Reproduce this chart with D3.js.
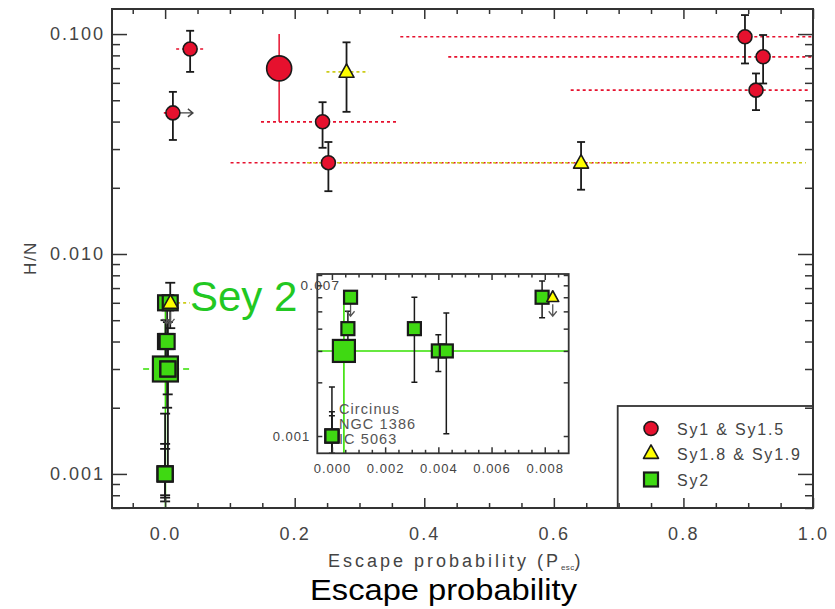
<!DOCTYPE html>
<html><head><meta charset="utf-8">
<script src="https://cdn.jsdelivr.net/npm/d3@7"></script>
<style>
body{margin:0;background:#fff}
svg{display:block}
text{font-family:"Liberation Sans",Arial,Helvetica,sans-serif}
</style></head>
<body><svg id="c" width="835" height="609"></svg>
<script>
// ---------------- data ----------------
// Sy1 & Sy1.5
const sy1X    = [0.012, 0.0386, 0.176, 0.243, 0.252, 0.895, 0.923, 0.912];
const sy1Y    = [0.0438, 0.0855, 0.0698, 0.0399, 0.026, 0.0972, 0.0788, 0.0556];
const sy1YLo  = [0.033, 0.0673, 0.0399, 0.0304, 0.0193, 0.0735, 0.0596, 0.0451];
const sy1YHi  = [0.0546, 0.1035, 0.100, 0.049, 0.0323, 0.122, 0.099, 0.0662];
const sy1XLo  = [-0.002, 0.017, null, 0.148, 0.101, 0.363, 0.437, 0.626];
const sy1XHi  = [0.012, 0.063, null, 0.357, 0.718, 1.05, 1.05, 0.995];
const sy1Mean = [false, false, true, false, false, false, false, false];
const sy1XLowerLimit = [true, false, false, false, false, false, false, false];
// Sy1.8 & Sy1.9
const sy18X   = [0.280, 0.642, 0.0083];
const sy18Y   = [0.0673, 0.026, 0.006];
const sy18YLo = [0.0443, 0.0196, null];
const sy18YHi = [0.0917, 0.0323, null];
const sy18XLo = [0.249, 0.219, 0.0];
const sy18XHi = [0.314, 0.989, 0.038];
const sy18UpperLimit = [false, false, true];
// Sy2
const sy2Names = ["", "", "", "", "", "", "", "Circinus", "NGC 1386", "IC 5063"];
const sy2X    = [0.0007, 0.0006, 0.00045, 0.0031, 0.0040, 0.0043, 0.0079, 0.0, 0.0, 0.0];
const sy2Y    = [0.006, 0.004, 0.003, 0.004, 0.003, 0.003, 0.006, 0.001, 0.001, 0.001];
const sy2YLo  = [null, 0.0029, 0.0006, 0.002, 0.0023, 0.00103, 0.0046, 0.00075, 0.00078, 0.0008];
const sy2YHi  = [null, 0.005, 0.0057, 0.006, 0.0037, 0.0049, 0.0074, 0.00188, 0.00137, 0.0013];
const sy2XLo  = [null, null, -0.034, null, null, null, null, null, null, null];
const sy2XHi  = [null, null, 0.037, null, null, null, null, null, null, null];
const sy2Mean = [false, false, true, false, false, false, false, false, false, false];
const sy2UpperLimit = [true, false, false, false, false, false, false, false, false, false];
// axes
const xMainTicks = [0.0, 0.2, 0.4, 0.6, 0.8, 1.0];
const yMainTicks = [0.001, 0.010, 0.100];
const xInsetTicks = [0.000, 0.002, 0.004, 0.006, 0.008];
const legendLabels = ["Sy1  &  Sy1.5", "Sy1.8  &  Sy1.9", "Sy2"];

// ---------------- styles ----------------
const RED = "#e6112e", YEL = "#ffff00", GRN = "#3fd912", GLINE = "#35e000",
      YLINE = "#cccc1a", INK = "#1a1a1a", GRAY = "#444", AX = "#333";

const svg = d3.select("#c");
svg.append("rect").attr("width", 835).attr("height", 609).attr("fill", "#fff");

// main scales
const x = d3.scaleLinear().domain([-0.082, 1.0]).range([112, 813]);
const y = d3.scaleLog().domain([0.0007, 0.13]).range([508, 9]);
// inset scales
const xi = d3.scaleLinear().domain([-0.00055, 0.0089]).range([317.3, 568.7]);
const yi = d3.scaleLog().domain([0.0008, 0.0081]).range([453.3, 274]);

const defs = svg.append("defs");
defs.append("clipPath").attr("id", "cm").append("rect")
  .attr("x", 112).attr("y", 9).attr("width", 701).attr("height", 499);
defs.append("clipPath").attr("id", "ci").append("rect")
  .attr("x", 317.3).attr("y", 274).attr("width", 251.4).attr("height", 179.3);

function hline(g, x1, x2, yy, color, dash, w) {
  g.append("line").attr("x1", x1).attr("x2", x2).attr("y1", yy).attr("y2", yy)
    .attr("stroke", color).attr("stroke-width", w || 1.7).attr("stroke-dasharray", dash || null);
}
function vbar(g, xx, y1, y2, color, caps, w, cw) {
  g.append("line").attr("x1", xx).attr("x2", xx).attr("y1", y1).attr("y2", y2)
    .attr("stroke", color).attr("stroke-width", w || 1.6);
  if (caps) [y1, y2].forEach(v => g.append("line").attr("x1", xx - cw).attr("x2", xx + cw)
    .attr("y1", v).attr("y2", v).attr("stroke", color).attr("stroke-width", w || 1.6));
}
function downArrow(g, xx, yy, len) {
  g.append("path").attr("d", `M${xx},${yy}V${yy + len}M${xx - 4},${yy + len - 5}L${xx},${yy + len}L${xx + 4},${yy + len - 5}`)
    .attr("fill", "none").attr("stroke", "#555").attr("stroke-width", 1.3);
}
function circle(g, cx, cy, r) {
  g.append("circle").attr("cx", cx).attr("cy", cy).attr("r", r)
    .attr("fill", RED).attr("stroke", INK).attr("stroke-width", 1.6);
}
function square(g, cx, cy, s) {
  g.append("rect").attr("x", cx - s / 2).attr("y", cy - s / 2).attr("width", s).attr("height", s)
    .attr("fill", GRN).attr("stroke", INK).attr("stroke-width", 2.2);
}
function tri(g, cx, cy, s) {
  const h = s * 0.9;
  g.append("path").attr("d", `M${cx},${cy - h * 0.6}L${cx + s / 2},${cy + h * 0.4}L${cx - s / 2},${cy + h * 0.4}Z`)
    .attr("fill", YEL).attr("stroke", INK).attr("stroke-width", 1.6).attr("stroke-linejoin", "round");
}

// ---------------- main panel ----------------
const gm = svg.append("g").attr("clip-path", "url(#cm)");
sy1X.forEach((d, i) => { if (sy1XLo[i] != null) hline(gm, x(sy1XLo[i]), x(sy1XHi[i]), y(sy1Y[i]), RED, "3,3"); });
sy18X.forEach((d, i) => { if (sy18XLo[i] != null) hline(gm, x(sy18XLo[i]), x(sy18XHi[i]), y(sy18Y[i]), YLINE, "3,3"); });
sy2X.forEach((d, i) => { if (sy2XLo[i] != null) hline(gm, x(sy2XLo[i]), x(sy2XHi[i]), y(sy2Y[i]), GLINE, "6,4", 1.5); });
sy2X.forEach((d, i) => { if (sy2Mean[i]) vbar(gm, x(d), y(sy2YLo[i]), y(sy2YHi[i]), GLINE, false, 1.6); });
sy2X.forEach((d, i) => { if (!sy2Mean[i] && sy2YLo[i] != null) vbar(gm, x(d), y(sy2YLo[i]), y(sy2YHi[i]), INK, true, 1.8, 5); });
sy1X.forEach((d, i) => {
  if (sy1Mean[i]) vbar(gm, x(d), y(sy1YLo[i]), y(sy1YHi[i]), RED, false, 1.5);
  else vbar(gm, x(d), y(sy1YLo[i]), y(sy1YHi[i]), INK, true, 1.8, 4);
});
sy18X.forEach((d, i) => { if (sy18YLo[i] != null) vbar(gm, x(d), y(sy18YLo[i]), y(sy18YHi[i]), INK, true, 1.8, 4); });
sy1X.forEach((d, i) => {
  if (sy1XLowerLimit[i]) {
    const cx = x(d), cy = y(sy1Y[i]);
    gm.append("path").attr("d", `M${cx + 7},${cy}H${cx + 20}M${cx + 15},${cy - 4}L${cx + 20},${cy}L${cx + 15},${cy + 4}`)
      .attr("fill", "none").attr("stroke", "#444").attr("stroke-width", 1.4);
  }
});
sy2X.forEach((d, i) => { if (sy2UpperLimit[i]) downArrow(gm, x(d) + 1, y(sy2Y[i]) + 8, 13); });
sy18X.forEach((d, i) => { if (sy18UpperLimit[i]) downArrow(gm, x(d), y(sy18Y[i]) + 9, 12); });
sy2X.forEach((d, i) => square(gm, x(d), y(sy2Y[i]), sy2Mean[i] ? 25 : 15));
sy1X.forEach((d, i) => circle(gm, x(d), y(sy1Y[i]), sy1Mean[i] ? 12.5 : 7));
sy18X.forEach((d, i) => tri(gm, x(d), y(sy18Y[i]), 15));

svg.append("text").attr("x", 190).attr("y", 311).attr("font-size", 42)
  .attr("fill", "#22c822").text("Sey 2");

function styleAxis(g, fs, ls) {
  g.select(".domain").remove();
  g.selectAll(".tick line").attr("stroke", AX).attr("stroke-width", 1.5);
  g.selectAll(".tick text").attr("fill", GRAY).attr("font-size", fs).attr("letter-spacing", ls)
    .attr("font-family", "Liberation Sans, Arial, sans-serif");
}
const xMinor = d3.range(-0.05, 1.0001, 0.05).map(v => +v.toFixed(2)).filter(v => !xMainTicks.includes(v));
const yMinor = [];
[0.0001, 0.001, 0.01].forEach(b => d3.range(2, 10).forEach(k => yMinor.push(b * k)));
const yMinorIn = yMinor.filter(v => v > 0.00069 && v < 0.13);

const axes = svg.append("g");
axes.append("g").attr("transform", "translate(0,508)")
  .call(d3.axisBottom(x).tickValues(xMainTicks).tickSize(-10).tickPadding(19).tickFormat(d3.format(".1f")))
  .call(g => styleAxis(g, 18, 2.2));
axes.append("g").attr("transform", "translate(0,508)")
  .call(d3.axisBottom(x).tickValues(xMinor).tickSize(-5).tickFormat(""))
  .call(g => styleAxis(g, 18, 2));
axes.append("g").attr("transform", "translate(0,9)")
  .call(d3.axisTop(x).tickValues(xMainTicks).tickSize(-10).tickFormat(""))
  .call(g => styleAxis(g, 18, 2));
axes.append("g").attr("transform", "translate(0,9)")
  .call(d3.axisTop(x).tickValues(xMinor).tickSize(-5).tickFormat(""))
  .call(g => styleAxis(g, 18, 2));
axes.append("g").attr("transform", "translate(112,0)")
  .call(d3.axisLeft(y).tickValues(yMainTicks).tickSize(-15).tickPadding(7).tickFormat(d3.format(".3f")))
  .call(g => styleAxis(g, 18, 2));
axes.append("g").attr("transform", "translate(112,0)")
  .call(d3.axisLeft(y).tickValues(yMinorIn).tickSize(-8).tickFormat(""))
  .call(g => styleAxis(g, 18, 2));

// ---------------- inset ----------------
const gi0 = svg.append("g");
gi0.append("rect").attr("x", 317.3).attr("y", 274).attr("width", 251.4).attr("height", 179.3).attr("fill", "#fff");
const gi = gi0.append("g").attr("clip-path", "url(#ci)");
sy2X.forEach((d, i) => { if (sy2XLo[i] != null) hline(gi, xi(sy2XLo[i]), xi(sy2XHi[i]), yi(sy2Y[i]), GLINE, null, 1.6); });
sy2X.forEach((d, i) => { if (sy2Mean[i]) vbar(gi, xi(d), yi(sy2YLo[i]), yi(sy2YHi[i]), GLINE, false, 1.6); });
sy2X.forEach((d, i) => { if (!sy2Mean[i] && sy2YLo[i] != null) vbar(gi, xi(d), yi(sy2YLo[i]), yi(sy2YHi[i]), INK, true, 1.5, 3); });
sy2X.forEach((d, i) => { if (sy2UpperLimit[i]) downArrow(gi, xi(d), yi(sy2Y[i]) + 6, 13); });
sy18X.forEach((d, i) => { if (sy18UpperLimit[i]) downArrow(gi, xi(d), yi(sy18Y[i]) + 7, 12); });
sy2Names.filter(n => n).forEach((n, k) => {
  gi.append("text").attr("x", xi(0) + 7).attr("y", yi(0.001) - 22.5 + k * 15.3)
    .attr("font-size", 14.5).attr("letter-spacing", 1.1).attr("fill", "#555").text(n);
});
sy2X.forEach((d, i) => square(gi, xi(d), yi(sy2Y[i]), sy2Mean[i] ? 22 : 13));
sy18X.forEach((d, i) => { if (d < 0.0089) tri(gi, xi(d), yi(sy18Y[i]), 12); });
gi0.append("rect").attr("x", 317.3).attr("y", 274).attr("width", 251.4).attr("height", 179.3)
  .attr("fill", "none").attr("stroke", AX).attr("stroke-width", 1.8);
const xiMinor = d3.range(0, 0.0089, 0.0005).map(v => +v.toFixed(4)).filter(v => !xInsetTicks.includes(v));
const yiTicks = [0.001, 0.002, 0.003, 0.004, 0.005, 0.006, 0.007, 0.008];
gi0.append("g").attr("transform", "translate(0,453.3)")
  .call(d3.axisBottom(xi).tickValues(xInsetTicks).tickSize(-6).tickPadding(10).tickFormat(d3.format(".3f")))
  .call(g => styleAxis(g, 13, 1));
gi0.append("g").attr("transform", "translate(0,453.3)")
  .call(d3.axisBottom(xi).tickValues(xiMinor).tickSize(-3.5).tickFormat(""))
  .call(g => styleAxis(g, 13, 1));
gi0.append("g").attr("transform", "translate(0,274)")
  .call(d3.axisTop(xi).tickValues(xInsetTicks).tickSize(-6).tickFormat(""))
  .call(g => styleAxis(g, 13, 1));
gi0.append("g").attr("transform", "translate(0,274)")
  .call(d3.axisTop(xi).tickValues(xiMinor).tickSize(-3.5).tickFormat(""))
  .call(g => styleAxis(g, 13, 1));
gi0.append("g").attr("transform", "translate(317.3,0)")
  .call(d3.axisLeft(yi).tickValues(yiTicks).tickSize(-5).tickFormat(""))
  .call(g => styleAxis(g, 13, 1));
gi0.append("g").attr("transform", "translate(568.7,0)")
  .call(d3.axisRight(yi).tickValues(yiTicks).tickSize(-5).tickFormat(""))
  .call(g => styleAxis(g, 13, 1));
gi0.append("g").attr("transform", "translate(317.3,0)")
  .call(d3.axisLeft(yi).tickValues([0.001]).tickSize(0).tickPadding(7).tickFormat(d3.format(".3f")))
  .call(g => styleAxis(g, 13, 1));
gi0.append("g").attr("transform", "translate(317.3,0)")
  .call(d3.axisLeft(yi).tickValues([0.007]).tickSize(0).tickPadding(-23).tickFormat(d3.format(".3f")))
  .call(g => styleAxis(g, 13.5, 1.2));

// ---------------- legend ----------------
const lg = svg.append("g");
lg.append("rect").attr("x", 617.7).attr("y", 406).attr("width", 195.3).attr("height", 102)
  .attr("fill", "#fff").attr("stroke", AX).attr("stroke-width", 1.8);
circle(lg, 651, 428.5, 7);
tri(lg, 651, 453, 15);
square(lg, 651, 479.5, 14);
legendLabels.forEach((t, k) => lg.append("text").attr("x", 677).attr("y", 434.5 + k * 25.7)
  .attr("font-size", 16).attr("letter-spacing", 1.8).attr("fill", "#444").text(t));

axes.raise();
const ra = svg.append("g");
ra.append("g").attr("transform", "translate(813,0)")
  .call(d3.axisRight(y).tickValues(yMainTicks).tickSize(-15).tickFormat(""))
  .call(g => styleAxis(g, 18, 2));
ra.append("g").attr("transform", "translate(813,0)")
  .call(d3.axisRight(y).tickValues(yMinorIn).tickSize(-8).tickFormat(""))
  .call(g => styleAxis(g, 18, 2));
svg.append("rect").attr("x", 112).attr("y", 9).attr("width", 701).attr("height", 499)
  .attr("fill", "none").attr("stroke", AX).attr("stroke-width", 2);

// ---------------- titles ----------------
svg.append("text").attr("transform", "translate(36,258) rotate(-90)").attr("text-anchor", "middle")
  .attr("font-size", 17).attr("letter-spacing", 1.5).attr("fill", GRAY).text("H/N");
const st = svg.append("text").attr("x", 328).attr("y", 567).attr("font-size", 18)
  .attr("letter-spacing", 3).attr("fill", GRAY);
st.append("tspan").text("Escape probability (P");
st.append("tspan").attr("font-size", 8).attr("dy", 3).attr("letter-spacing", 0.3).text("esc");
st.append("tspan").attr("dy", -3).text(")");
svg.append("text").attr("x", 310).attr("y", 600).attr("font-size", 29)
  .attr("textLength", 267).attr("lengthAdjust", "spacingAndGlyphs").attr("fill", "#000")
  .text("Escape probability");
</script></body></html>
